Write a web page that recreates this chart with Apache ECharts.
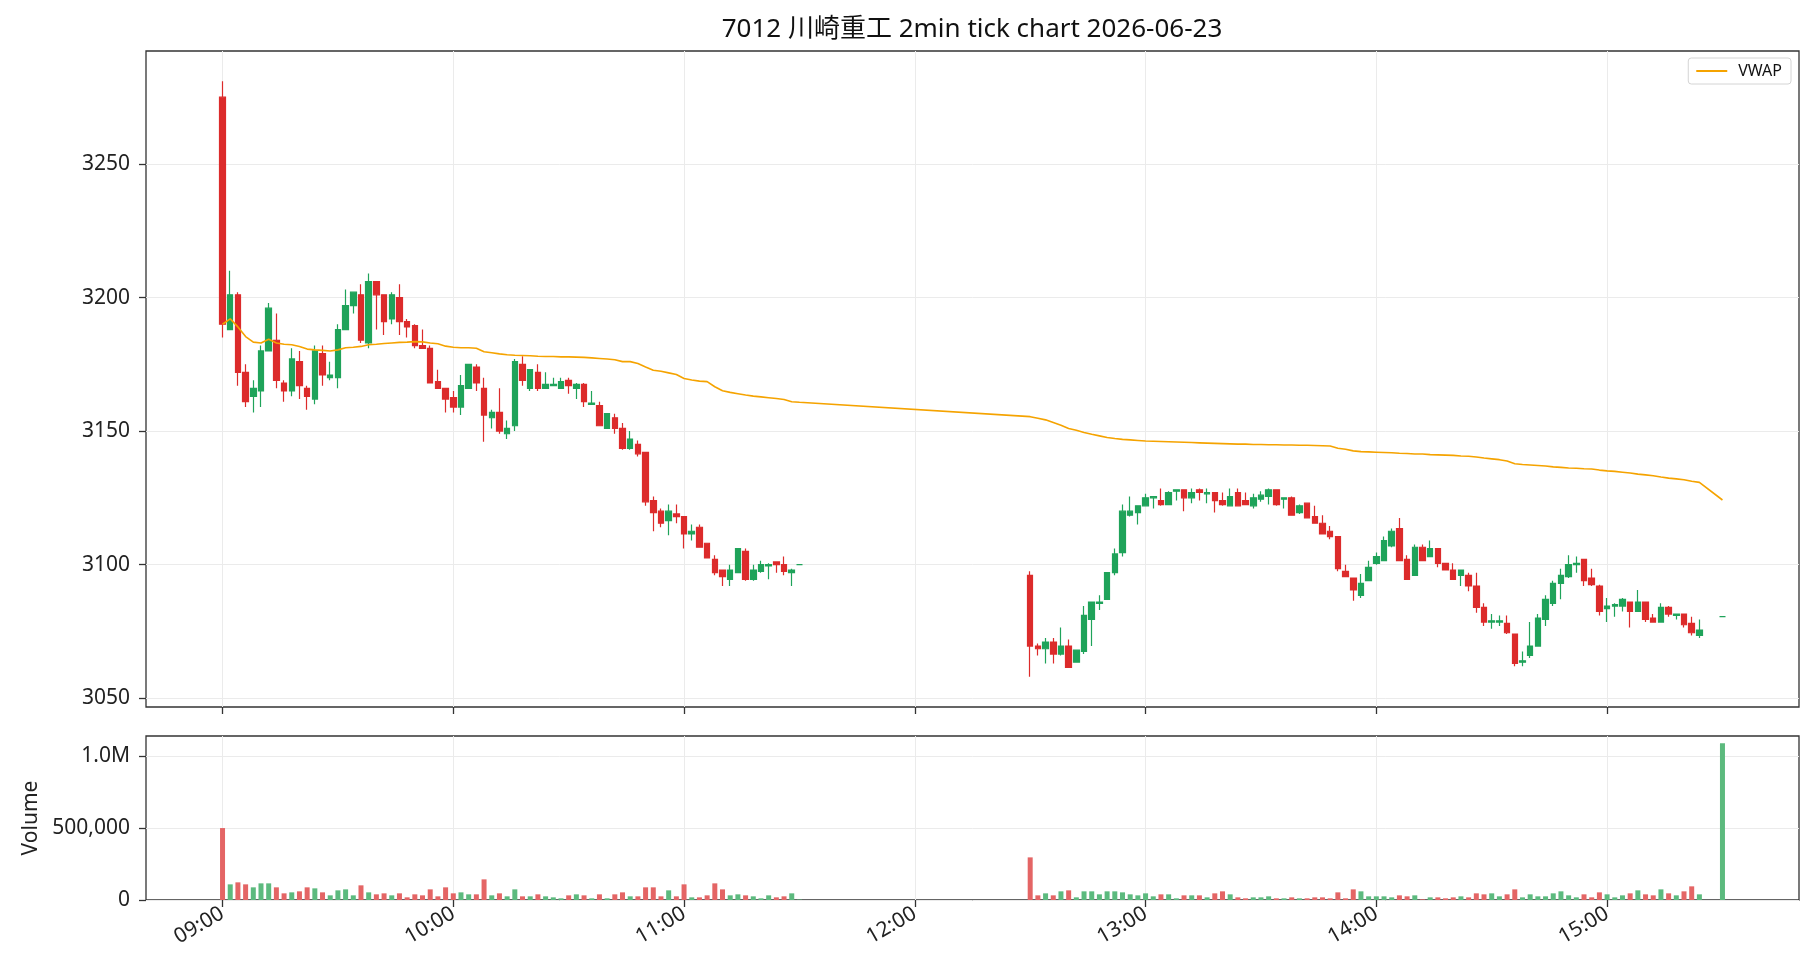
<!DOCTYPE html>
<html>
<head>
<meta charset="utf-8">
<script src="https://cdn.jsdelivr.net/npm/echarts@6/dist/echarts.min.js"></script>
<style>
  html, body { margin: 0; background: #fff; }
  #chart { width: 1820px; height: 980px; }
</style>
</head>
<body>
<div id="chart"></div>
<script>
// 2-minute bars (bar start time)
const times = [
  '09:00','09:02','09:04','09:06','09:08','09:10','09:12','09:14','09:16','09:18',
  '09:20','09:22','09:24','09:26','09:28','09:30','09:32','09:34','09:36','09:38',
  '09:40','09:42','09:44','09:46','09:48','09:50','09:52','09:54','09:56','09:58',
  '10:00','10:02','10:04','10:06','10:08','10:10','10:12','10:14','10:16','10:18',
  '10:20','10:22','10:24','10:26','10:28','10:30','10:32','10:34','10:36','10:38',
  '10:40','10:42','10:44','10:46','10:48','10:50','10:52','10:54','10:56','10:58',
  '11:00','11:02','11:04','11:06','11:08','11:10','11:12','11:14','11:16','11:18',
  '11:20','11:22','11:24','11:26','11:28','11:30',
  '12:30','12:32','12:34','12:36','12:38','12:40','12:42','12:44','12:46','12:48',
  '12:50','12:52','12:54','12:56','12:58','13:00','13:02','13:04','13:06','13:08',
  '13:10','13:12','13:14','13:16','13:18','13:20','13:22','13:24','13:26','13:28',
  '13:30','13:32','13:34','13:36','13:38','13:40','13:42','13:44','13:46','13:48',
  '13:50','13:52','13:54','13:56','13:58','14:00','14:02','14:04','14:06','14:08',
  '14:10','14:12','14:14','14:16','14:18','14:20','14:22','14:24','14:26','14:28',
  '14:30','14:32','14:34','14:36','14:38','14:40','14:42','14:44','14:46','14:48',
  '14:50','14:52','14:54','14:56','14:58','15:00','15:02','15:04','15:06','15:08',
  '15:10','15:12','15:14','15:16','15:18','15:20','15:22','15:24','15:30'
]

const open = [
  3275,3188,3201,3172,3163,3165,3180,3184,3168,3165,
  3176,3166,3162,3179,3170,3170,3188,3197,3201,3183,
  3206,3201,3192,3200,3191,3189.5,3182,3181,3168.5,3166,
  3162.5,3159,3166,3174,3166,3155,3157,3149,3152,3175,
  3166,3172,3166,3167,3166,3169,3166,3167.5,3160,3159.5,
  3151,3155,3151,3143.5,3145,3142,3124,3120,3116.5,3119,
  3118,3111.5,3114,3108,3102,3098,3094.5,3097,3105,3094.5,
  3097.5,3099.5,3101,3100,3097,3100,
  3096,3069.5,3068.5,3071,3066.5,3069.5,3063.5,3067.5,3079.5,3085.5,
  3087,3097,3104.5,3118.5,3119.5,3122,3125,3124,3122.5,3127.5,
  3128,3125,3128,3126.5,3127,3124,3122,3127,3124,3122,
  3124.5,3125.5,3128,3124.5,3125,3119.5,3123,3118,3115.5,3112.5,
  3110.5,3097.5,3095,3088.5,3094,3100.5,3101.5,3107,3113.5,3102,
  3096,3106.5,3103,3106,3100.5,3098,3096,3096,3092,3084,
  3078.5,3078.5,3078,3074,3063.5,3066,3069.5,3079.5,3085.5,3093,
  3095.5,3100,3102,3095,3092,3083.5,3084.5,3084.5,3086,3082.5,
  3086,3080,3078.5,3084,3081,3081.5,3078,3073.5,3080.5
]

const close = [
  3190,3201,3172,3161,3166,3180,3196,3169,3165,3177,
  3167,3163,3180,3171,3171,3188,3197,3202,3184,3206,
  3201,3191,3201,3191,3189,3182,3181,3168,3166,3162,
  3159,3167,3175,3168,3156,3157,3150,3151,3176,3169,
  3173,3166,3167.5,3167.5,3168.5,3167,3167.5,3161,3160.5,3152,
  3156.5,3151,3143.5,3147,3141.5,3123.5,3119.5,3115.5,3120,3118,
  3111.5,3112.5,3106.5,3102.5,3097,3095.5,3098,3106,3094.5,3098,
  3100,3100,3100,3097.5,3098,3100,
  3069.5,3068.5,3071,3066.5,3069.5,3061.5,3068,3081,3086,3086,
  3097,3104,3120,3120,3122,3125,3125.5,3122.5,3127,3128,
  3125,3127,3127,3127,3124,3122.5,3125.5,3122,3122.5,3125,
  3126,3128,3122.5,3125,3118.5,3122,3117.5,3115.5,3111.5,3110.5,
  3098.5,3095.5,3090.5,3093,3099,3103,3109,3112.5,3101.5,3094.5,
  3106.5,3101.5,3106,3100.5,3098,3094.5,3098,3092,3084,3078.5,
  3079,3079,3074.5,3063,3064,3069.5,3080,3087,3093,3096,
  3100,3100.5,3094,3092.5,3082.5,3084.5,3085,3087,3082.5,3086,
  3079.5,3078.5,3084,3081.5,3081.5,3077.5,3074.5,3075.5,3080.5
]

const low = [
  3185,3188,3167,3159,3157,3159,3180,3166,3161,3163,
  3162,3158,3160,3167,3169,3166,3188,3194,3183,3181,
  3188,3186,3190,3186,3185,3181,3181,3168,3166,3157,
  3157,3156,3166,3165,3146,3151,3149,3147,3150,3167,
  3165,3165,3166,3167,3166,3164,3162,3159,3160,3152,
  3151,3149,3143,3143,3140.5,3122,3112.5,3114,3111,3115.5,
  3106,3109,3106.5,3102.5,3096,3092,3092,3097,3094,3094,
  3097,3094.5,3097,3096,3092,3100,
  3058,3066,3063,3063,3066,3061.5,3063.5,3066.5,3069.5,3083,
  3087,3096,3103,3118,3115,3122,3121,3122,3122.5,3124,
  3120,3123,3124,3123,3119.5,3122,3122,3122,3122.5,3121,
  3123.5,3122.5,3122,3121,3118.5,3119,3117.5,3115.5,3111.5,3109.5,
  3097.5,3095.5,3086.5,3087.5,3094,3100,3101.5,3106.5,3101.5,3094.5,
  3096,3101.5,3103,3099,3098,3094.5,3092,3090,3082,3077,
  3076,3077,3074,3062,3062,3065,3069.5,3077,3084.5,3087,
  3095,3097,3092,3092,3081,3078.5,3080.5,3082.5,3076.5,3082.5,
  3078.5,3078.5,3078.5,3080.5,3079.5,3076.5,3073.5,3072.5,3080.5
]

const high = [
  3281,3210,3202,3175,3169,3182,3198,3194,3169,3181,
  3180,3167,3182,3182,3176,3190,3203,3202,3205,3209,
  3206,3201,3202,3205,3192,3190,3188,3182,3173,3166,
  3165,3171,3175,3175,3170,3158,3166,3154,3177,3178,
  3173,3175,3172,3170,3170,3170,3168,3168,3165,3161,
  3156.5,3156.5,3153,3150,3146.5,3142,3125.5,3121,3122.5,3122.5,
  3118,3115,3115,3108,3103.5,3098,3100,3106,3106,3100,
  3101.5,3100.5,3101,3103,3098.5,3100,
  3097.5,3070.5,3072.5,3072.5,3076.5,3072,3068,3084.5,3086,3088.5,
  3097,3106,3122.5,3125.5,3122,3126.5,3125.5,3128.5,3127.5,3128,
  3128,3128.5,3128.5,3128.5,3127,3127,3128.5,3128.5,3127,3126.5,
  3127.5,3128.5,3128,3125,3125.5,3122.5,3123,3122,3118.5,3114.5,
  3110.5,3100,3095,3096.5,3101.5,3104.5,3110.5,3113.5,3117.5,3103.5,
  3107.5,3107.5,3109,3106,3100.5,3100.5,3098,3097,3097,3085.5,
  3081.5,3081,3081,3074,3067.5,3078.5,3081.5,3088.5,3094,3098.5,
  3103.5,3103,3102,3098.5,3092.5,3087.5,3085.5,3087.5,3086,3090.5,
  3086,3081.5,3085.5,3084.5,3081.5,3081.5,3080.5,3079.5,3080.5
]

const volume = [
  500000,108800,122700,108800,88000,115700,115700,88000,46300,53200,
  60200,88000,81000,53200,32400,67100,74000,32400,101900,53200,
  39400,46300,32400,46300,18500,39400,32400,74000,25500,88000,
  46300,53200,39400,39400,143500,32400,46300,25500,74000,25500,
  25500,39400,25500,18500,11600,32400,39400,32400,11600,39400,
  11600,39400,53200,25500,25500,88000,88000,25500,67100,25500,
  108800,18500,18500,32400,115700,74000,32400,39400,32400,25500,
  11600,32400,18500,25500,46300,3000,
  296300,32400,46300,32400,60200,67100,18500,60200,60200,39400,
  60200,60200,53200,39400,32400,46300,25500,39400,39400,11600,
  32400,32400,32400,18500,46300,60200,39400,18500,11600,18500,
  18500,25500,11600,11600,18500,11600,11600,18500,18500,11600,
  53200,11600,74000,60200,25500,25500,25500,18500,32400,25500,
  32400,4600,18500,18500,11600,18500,25500,18500,46300,39400,
  46300,25500,39400,74000,18500,39400,25500,25500,46300,60200,
  32400,18500,39400,18500,53200,39400,18500,32400,46300,67100,
  39400,32400,74000,46300,32400,60200,94900,39400,1090000
]

const vwap = [
  3190,3192,3189,3185.4,3183.3,3183,3184.4,3183,3182.5,3182.3,
  3181.7,3180.7,3180.4,3180.2,3180,3180.4,3181.2,3181.4,3181.7,3182.3,
  3182.5,3182.8,3183,3183.2,3183.3,3183.5,3183.4,3183,3182.7,3181.8,
  3181.4,3181.2,3181.2,3181,3179.7,3179.3,3178.9,3178.6,3178.4,3178.3,
  3178.2,3178,3177.9,3177.9,3177.8,3177.8,3177.7,3177.6,3177.4,3177.2,
  3177,3176.7,3176,3176,3175.3,3174,3172.8,3172.4,3171.8,3171.2,
  3169.7,3169.1,3168.7,3168.5,3166.6,3165.1,3164.5,3164,3163.5,3163.1,
  3162.8,3162.5,3162.2,3161.8,3161,3160.8,
  3155.4,3154.8,3154.2,3153.2,3152.2,3151,3150.3,3149.5,3148.8,3148.2,
  3147.6,3147.2,3146.9,3146.7,3146.5,3146.3,3146.2,3146.1,3146,3145.9,
  3145.8,3145.7,3145.6,3145.5,3145.4,3145.3,3145.2,3145.1,3145.1,3145,
  3145,3144.9,3144.9,3144.8,3144.8,3144.7,3144.7,3144.6,3144.5,3144.4,
  3143.6,3143.2,3142.6,3142.3,3142.2,3142.1,3142,3141.9,3141.7,3141.6,
  3141.4,3141.4,3141.2,3141.1,3141,3140.9,3140.7,3140.6,3140.3,3139.9,
  3139.6,3139.3,3138.8,3137.8,3137.5,3137.3,3137.1,3136.9,3136.6,3136.4,
  3136.2,3136.1,3135.9,3135.8,3135.4,3135.1,3134.9,3134.6,3134.3,3133.9,
  3133.6,3133.3,3132.8,3132.4,3132.1,3131.8,3131.2,3130.8,3124.2
]

const hourTicks = ['09:00','10:00','11:00','12:00','13:00','14:00','15:00']
const priceTicks = [3050, 3100, 3150, 3200, 3250]
const volumeTicks = [0, 500000, 1000000]

const UP = '#1fa35a'
const DOWN = '#dc2b2b'
const VOL_UP = '#5cba7e'
const VOL_DOWN = '#e46565'
const FONT = '"Noto Sans", "Noto Sans CJK JP", sans-serif'

const toMin = t => {
  const [h, m] = t.split(':').map(Number)
  return h * 60 + m
}
const fmtMin = v => {
  const h = Math.floor(v / 60)
  const m = Math.round(v - h * 60)
  return String(h).padStart(2, '0') + ':' + String(m).padStart(2, '0')
}

const xs = times.map(toMin)
const candleData = xs.map((x, i) => [x, open[i], close[i], low[i], high[i]])
const vwapData = xs.map((x, i) => [x, vwap[i]])
const volumeData = xs.map((x, i) => ({
  value: [x, volume[i]],
  itemStyle: { color: close[i] >= open[i] ? VOL_UP : VOL_DOWN }
}))

const xMin = xs[0] - 19.9
const xMax = xs[xs.length - 1] + 19.9
const hourValues = hourTicks.map(toMin)

const gridLine = { show: true, lineStyle: { color: '#ebebeb', width: 1 } }
const tickStyle = { show: true, length: 7, lineStyle: { color: '#333', width: 1.3 } }
const labelStyle = { color: '#222', fontSize: 21, fontFamily: FONT }

const chart = echarts.init(document.getElementById('chart'), null, { renderer: 'canvas' })

const option = {
  animation: false,
  backgroundColor: '#fff',
  title: {
    text: '7012 川崎重工 2min tick chart 2026-06-23',
    left: 972,
    top: 17,
    padding: 0,
    textAlign: 'center',
    textStyle: { color: '#111', fontSize: 26, fontWeight: 'normal', fontFamily: FONT }
  },
  legend: {
    data: [{ name: 'VWAP', icon: 'rect' }],
    right: 29,
    top: 58,
    padding: [5, 9, 5, 8],
    itemWidth: 31,
    itemHeight: 2,
    borderColor: '#d4d4d4',
    borderWidth: 1,
    borderRadius: 3,
    backgroundColor: '#fff',
    textStyle: { color: '#111', fontSize: 16, fontFamily: FONT, padding: [0, 0, 0, 6] }
  },
  grid: [
    { left: 146, right: 21, top: 51, height: 656, show: true, borderColor: '#333', borderWidth: 1.3, backgroundColor: 'transparent' },
    { left: 146, right: 21, top: 736, height: 164, show: true, borderColor: '#333', borderWidth: 1.3, backgroundColor: 'transparent' }
  ],
  xAxis: [
    {
      type: 'value', gridIndex: 0, min: xMin, max: xMax,
      axisLine: { show: false },
      axisTick: { ...tickStyle, customValues: hourValues },
      axisLabel: { show: false, customValues: hourValues },
      splitLine: gridLine
    },
    {
      type: 'value', gridIndex: 1, min: xMin, max: xMax,
      axisLine: { show: false },
      axisTick: { ...tickStyle, customValues: hourValues },
      axisLabel: { ...labelStyle, customValues: hourValues, rotate: 30, margin: 12, formatter: fmtMin },
      splitLine: gridLine
    }
  ],
  yAxis: [
    {
      type: 'value', gridIndex: 0, min: 3046.7, max: 3292.3,
      axisLine: { show: false },
      axisTick: { ...tickStyle, customValues: priceTicks },
      axisLabel: { ...labelStyle, customValues: priceTicks, margin: 16, formatter: v => String(v) },
      splitLine: gridLine
    },
    {
      type: 'value', gridIndex: 1, min: 0, max: 1140000,
      name: 'Volume', nameLocation: 'middle', nameRotate: 90, nameGap: 104,
      nameTextStyle: { color: '#222', fontSize: 21, fontFamily: FONT },
      axisLine: { show: false },
      axisTick: { ...tickStyle, customValues: volumeTicks },
      axisLabel: {
        ...labelStyle, customValues: volumeTicks, margin: 16,
        formatter: v => v >= 1000000 ? (v / 1000000).toFixed(1) + 'M' : v.toLocaleString('en-US')
      },
      splitLine: gridLine
    }
  ],
  series: [
    {
      name: 'price',
      type: 'candlestick',
      xAxisIndex: 0,
      yAxisIndex: 0,
      barWidth: 6,
      encode: { x: 0, y: [1, 2, 3, 4] },
      itemStyle: {
        color: UP,
        color0: DOWN,
        borderColor: UP,
        borderColor0: DOWN,
        borderColorDoji: UP,
        borderWidth: 1.2
      },
      data: candleData
    },
    {
      name: 'VWAP',
      type: 'line',
      xAxisIndex: 0,
      yAxisIndex: 0,
      showSymbol: false,
      symbol: 'none',
      color: '#f5a300',
      lineStyle: { color: '#f5a300', width: 1.6 },
      data: vwapData,
      z: 5
    },
    {
      name: 'volume',
      type: 'bar',
      xAxisIndex: 1,
      yAxisIndex: 1,
      barWidth: 5,
      data: volumeData
    }
  ]
}

chart.setOption(option)
</script>
</body>
</html>
